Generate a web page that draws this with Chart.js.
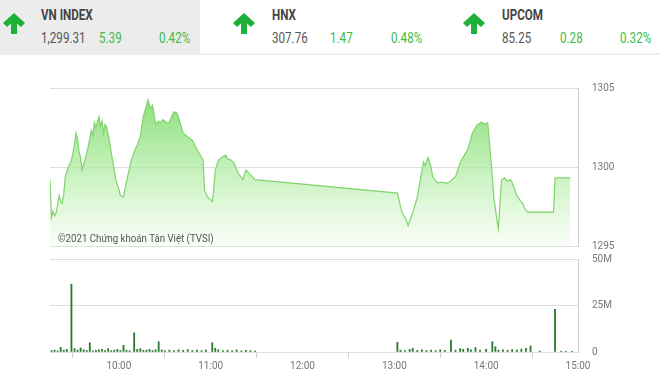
<!DOCTYPE html>
<html>
<head>
<meta charset="utf-8">
<script src="https://cdn.jsdelivr.net/npm/chart.js@4.4.1/dist/chart.umd.min.js"></script>
<style>
html,body{margin:0;padding:0;background:#fff;width:660px;height:381px;overflow:hidden;font-family:Roboto,"Noto Sans",sans-serif}
#hdr{position:absolute;left:0;top:0;width:660px;height:53px;border-bottom:2px solid #efefef}
#hbox{position:absolute;left:0;top:0;width:200px;height:53px;background:#ececec}
.t{position:absolute;font-size:14px;line-height:16px;white-space:nowrap;transform:scaleX(.83);transform-origin:left center;color:#555}
.n{font-weight:bold;color:#444}
.g{color:#3dba48}
.arr{position:absolute;top:13px;width:22px;height:21px}
#wm{position:absolute;left:58px;top:231px;font-size:11px;line-height:16px;color:#555;white-space:nowrap;transform:scaleX(.88);transform-origin:left center}
.cv{position:absolute;left:0}
</style>
</head>
<body>
<div id="hdr">
  <div id="hbox"></div>
  <svg class="arr" style="left:3px" viewBox="0 0 22 21"><polygon points="11,0 22,10 18,14 14,10.5 14,21 8,21 8,10.5 4,14 0,10" fill="#1db13a"/></svg>
  <span class="t n" style="left:41px;top:7px">VN INDEX</span>
  <span class="t" style="left:41px;top:30px">1,299.31</span>
  <span class="t g" style="left:99px;top:30px">5.39</span>
  <span class="t g" style="left:159px;top:30px">0.42%</span>

  <svg class="arr" style="left:233px" viewBox="0 0 22 21"><polygon points="11,0 22,10 18,14 14,10.5 14,21 8,21 8,10.5 4,14 0,10" fill="#1db13a"/></svg>
  <span class="t n" style="left:272px;top:7px">HNX</span>
  <span class="t" style="left:272px;top:30px">307.76</span>
  <span class="t g" style="left:330px;top:30px">1.47</span>
  <span class="t g" style="left:391px;top:30px">0.48%</span>

  <svg class="arr" style="left:463px" viewBox="0 0 22 21"><polygon points="11,0 22,10 18,14 14,10.5 14,21 8,21 8,10.5 4,14 0,10" fill="#1db13a"/></svg>
  <span class="t n" style="left:502px;top:7px">UPCOM</span>
  <span class="t" style="left:502px;top:30px">85.25</span>
  <span class="t g" style="left:560px;top:30px">0.28</span>
  <span class="t g" style="left:620px;top:30px">0.32%</span>
</div>

<canvas id="price" class="cv" style="top:80px" width="660" height="175"></canvas>
<canvas id="vol" class="cv" style="top:250px" width="660" height="131"></canvas>
<div id="wm">©2021 Chứng khoán Tân Việt (TVSI)</div>

<script>
// --- dữ liệu ---
const priceTimes=["9:15","9:16","9:17","9:18","9:19","9:20","9:21","9:22","9:23","9:24","9:25","9:27","9:29","9:31","9:32","9:33","9:34","9:35","9:36","9:38","9:40","9:42","9:43","9:44","9:45","9:47","9:48","9:49","9:50","9:51","9:52","9:54","9:55","9:57","9:58","10:00","10:01","10:03","10:04","10:06","10:08","10:10","10:12","10:14","10:15","10:16","10:18","10:19","10:20","10:21","10:22","10:24","10:26","10:27","10:29","10:31","10:33","10:35","10:36","10:38","10:40","10:42","10:45","10:48","10:50","10:52","10:55","10:56","10:58","11:01","11:02","11:03","11:05","11:07","11:10","11:11","11:13","11:15","11:18","11:21","11:23","11:26","11:29",
"13:02","13:05","13:07","13:09","13:12","13:15","13:17","13:19","13:20","13:22","13:24","13:25","13:28","13:32","13:34","13:36","13:40","13:43","13:46","13:48","13:51","13:54","13:57","13:59","14:01","14:03","14:05","14:07","14:08","14:10","14:12","14:14","14:16","14:17","14:20","14:22","14:24","14:25","14:27","14:44","14:45","14:55"];
const priceVals=[1299.2,1296.8,1297.2,1296.9,1297.1,1297.6,1298.2,1297.8,1297.7,1298.3,1299.4,1300.0,1300.4,1301.4,1302.15,1301.8,1300.95,1300.6,1299.8,1300.5,1301.3,1302.3,1302.0,1302.8,1302.5,1303.2,1302.6,1302.9,1302.15,1302.7,1302.5,1301.6,1300.9,1299.8,1299.2,1298.6,1298.2,1298.1,1298.6,1299.5,1300.4,1300.95,1301.4,1301.9,1302.6,1303.2,1303.9,1304.24,1303.9,1303.7,1303.9,1302.7,1302.9,1302.8,1303.0,1302.8,1302.85,1303.3,1303.5,1303.4,1302.8,1302.15,1301.9,1301.7,1301.3,1300.95,1300.45,1298.5,1298.1,1297.8,1298.6,1299.8,1300.4,1300.6,1300.75,1300.5,1300.45,1300.3,1299.6,1299.2,1299.8,1299.5,1299.2,
1298.35,1297.1,1296.8,1296.3,1297.1,1298.1,1299.2,1300.3,1300.1,1300.6,1300.0,1299.4,1299.0,1299.05,1298.95,1299.05,1299.4,1300.25,1300.8,1301.1,1302.15,1302.65,1302.85,1302.7,1302.8,1300.6,1298.1,1296.65,1296.1,1299.2,1299.3,1299.1,1299.2,1299.0,1298.2,1297.9,1297.7,1297.4,1297.15,1297.15,1299.31,1299.31];

const volTimes=["9:16","9:18","9:20","9:22","9:24","9:26","9:29","9:31","9:33","9:35","9:37","9:39","9:41","9:43","9:45","9:47","9:49","9:51","9:53","9:55","9:57","9:59","10:01","10:03","10:05","10:07","10:10","10:12","10:14","10:16","10:18","10:20","10:22","10:24","10:26","10:28","10:30","10:33","10:36","10:39","10:42","10:45","10:48","10:51","10:54","10:57","11:01","11:03","11:05","11:08","11:11","11:14","11:17","11:20","11:23","11:26","11:29",
"13:02","13:04","13:07","13:10","13:12","13:15","13:18","13:21","13:24","13:27","13:30","13:33","13:37","13:40","13:43","13:45","13:48","13:50","13:53","13:56","14:00","14:04","14:06","14:08","14:11","14:14","14:17","14:20","14:23","14:26","14:29","14:35","14:45","14:49","14:52","14:56"];
const volVals=[0.8,1.0,0.6,2.5,1.0,1.4,36.5,1.8,1.0,2.2,1.2,0.8,5.0,0.6,0.9,1.2,1.5,0.8,1.8,0.7,1.0,1.4,0.8,3.6,1.0,0.7,10.3,1.4,1.8,0.9,1.0,1.4,0.8,1.2,5.5,1.1,0.7,1.0,0.8,1.2,0.9,1.3,0.8,1.0,0.7,1.1,5.0,2.0,1.2,0.8,1.0,0.7,1.1,0.6,0.9,0.7,0.5,
5.2,1.0,0.8,1.4,2.0,0.9,1.2,0.8,1.0,0.7,1.2,0.9,6.4,1.0,1.8,1.4,2.0,1.2,2.4,1.0,1.5,5.5,2.8,1.0,1.2,0.9,1.3,1.1,1.6,2.0,3.2,0.5,23.0,0.4,0.4,0.4];

const priceTicks=[1295,1300,1305];
const volTicks=[0,25,50];
const hourTicks=["10:00","11:00","12:00","13:00","14:00","15:00"];
const X_MIN="9:15",X_MAX="15:00";

function toMin(s){const p=s.split(':');return (+p[0])*60+(+p[1]);}
function fmtMin(v){const h=Math.floor(v/60),m=v%60;return h+':'+String(m).padStart(2,'0');}

const GRID="#dedede",BORDER="#cfcfcf",TXT="#777";
const FONT={family:"Roboto",size:10};
// nhãn trục phải: đẩy chữ ra bằng tick trong suốt (ticks.padding làm lệch vùng vẽ)
const yGrid={color:GRID,drawTicks:true,tickLength:12,tickColor:"rgba(0,0,0,0)"};

new Chart(document.getElementById("price"),{
  type:"line",
  data:{datasets:[{
    data:priceTimes.map((t,i)=>({x:toMin(t),y:priceVals[i]})),
    borderColor:"#7fd46c",borderWidth:1.2,pointRadius:0,tension:0,fill:"start",
    backgroundColor:c=>{
      const ca=c.chart.chartArea;if(!ca)return "rgba(140,220,120,.5)";
      const g=c.chart.ctx.createLinearGradient(0,ca.top,0,ca.bottom);
      g.addColorStop(0,"rgba(118,214,98,.9)");
      g.addColorStop(.5,"rgba(175,236,162,.75)");
      g.addColorStop(1,"rgba(245,253,243,.6)");
      return g;
    }
  }]},
  options:{
    responsive:false,animation:false,
    layout:{padding:{left:50,top:8,bottom:9,right:0}},
    plugins:{legend:{display:false},tooltip:{enabled:false}},
    scales:{
      x:{type:"linear",display:false,min:toMin(X_MIN),max:toMin(X_MAX)},
      y:{position:"right",min:priceTicks[0],max:priceTicks[priceTicks.length-1],
        afterBuildTicks:a=>{a.ticks=priceTicks.map(v=>({value:v}));},
        afterFit:a=>{a.width=82;},
        ticks:{color:TXT,font:FONT,padding:2,callback:v=>String(v)},
        grid:yGrid,
        border:{display:true,color:BORDER}}
    }
  }
});

new Chart(document.getElementById("vol"),{
  type:"bar",
  data:{datasets:[{
    data:volTimes.map((t,i)=>({x:toMin(t),y:volVals[i]})),
    backgroundColor:"#2f7a30",borderWidth:0,barThickness:1.2,grouped:false
  }]},
  options:{
    responsive:false,animation:false,
    layout:{padding:{left:50,top:9,bottom:0,right:0}},
    plugins:{legend:{display:false},tooltip:{enabled:false}},
    scales:{
      x:{type:"linear",offset:false,min:toMin(X_MIN),max:toMin(X_MAX),
        afterBuildTicks:a=>{a.ticks=hourTicks.map(s=>({value:toMin(s)}));},
        afterFit:a=>{a.height=29;},
        ticks:{color:TXT,font:FONT,padding:2,maxRotation:0,autoSkip:false,callback:v=>fmtMin(v)},
        grid:{drawOnChartArea:false,drawTicks:true,tickLength:6,color:BORDER},
        border:{display:true,color:GRID}},
      y:{position:"right",min:volTicks[0],max:volTicks[volTicks.length-1],
        afterBuildTicks:a=>{a.ticks=volTicks.map(v=>({value:v}));},
        afterFit:a=>{a.width=82;},
        ticks:{color:TXT,font:FONT,padding:2,callback:v=>v===0?"0":v+"M"},
        grid:yGrid,
        border:{display:true,color:BORDER}}
    }
  }
});
</script>
</body>
</html>
